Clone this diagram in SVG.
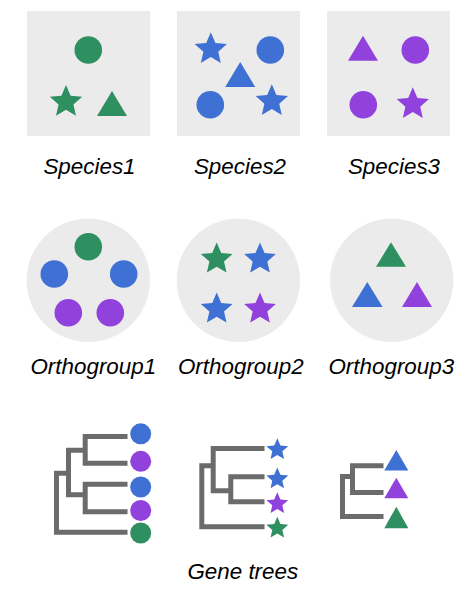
<svg xmlns="http://www.w3.org/2000/svg" xmlns:xlink="http://www.w3.org/1999/xlink" width="474" height="592" viewBox="0 0 474 592">
<style>
.bg{fill:#ebebeb}
.g{fill:#2e8f60}
.b{fill:#3f70d3}
.p{fill:#9142dc}
.lbl{font-family:"Liberation Sans",Arial,sans-serif;font-style:italic;font-size:22.4px;fill:#000;text-anchor:middle}
.br{fill:none;stroke:#6b6b6b;stroke-width:5;stroke-linecap:square;stroke-linejoin:miter}
</style>
<defs>
<path id="star" d="M0,-10 L2.704,-3.721 L9.511,-3.09 L4.375,1.421 L5.878,8.09 L0,4.6 L-5.878,8.09 L-4.375,1.421 L-9.511,-3.09 L-2.704,-3.721 Z"/>
<path id="tri" d="M0,-12.5 L15,12.5 L-15,12.5 Z"/>
</defs>

<g id="species1">
<rect class="bg" x="27" y="11" width="123" height="125"/>
<circle class="g" cx="88.3" cy="50" r="13.8"/>
<use xlink:href="#star" class="g" transform="translate(66,102) scale(1.7)"/>
<use xlink:href="#tri" class="g" transform="translate(112,103.5)"/>
<text class="lbl" x="89.5" y="174">Species1</text>
</g>

<g id="species2">
<rect class="bg" x="177" y="11" width="123" height="125"/>
<use xlink:href="#star" class="b" transform="translate(210.8,49.3) scale(1.7)"/>
<circle class="b" cx="270.3" cy="50" r="13.8"/>
<use xlink:href="#tri" class="b" transform="translate(240.2,74.5)"/>
<circle class="b" cx="210.3" cy="104.8" r="13.8"/>
<use xlink:href="#star" class="b" transform="translate(271.8,101.3) scale(1.7)"/>
<text class="lbl" x="240" y="174">Species2</text>
</g>

<g id="species3">
<rect class="bg" x="327" y="11" width="123" height="125"/>
<use xlink:href="#tri" class="p" transform="translate(363,48.3)"/>
<circle class="p" cx="415.3" cy="50" r="13.8"/>
<circle class="p" cx="363.3" cy="104.8" r="13.8"/>
<use xlink:href="#star" class="p" transform="translate(412.8,104.3) scale(1.7)"/>
<text class="lbl" x="394" y="174">Species3</text>
</g>

<g id="orthogroup1">
<circle class="bg" cx="88.3" cy="280.3" r="61.7"/>
<circle class="g" cx="88.3" cy="246.8" r="13.8"/>
<circle class="b" cx="54.3" cy="274" r="13.8"/>
<circle class="b" cx="123.7" cy="274" r="13.8"/>
<circle class="p" cx="68.3" cy="312.8" r="13.8"/>
<circle class="p" cx="110.3" cy="312.8" r="13.8"/>
<text class="lbl" x="93.3" y="374">Orthogroup1</text>
</g>

<g id="orthogroup2">
<circle class="bg" cx="238.3" cy="280.3" r="61.7"/>
<use xlink:href="#star" class="g" transform="translate(216.7,259.1) scale(1.67)"/>
<use xlink:href="#star" class="b" transform="translate(260,259.1) scale(1.67)"/>
<use xlink:href="#star" class="b" transform="translate(216.7,309.1) scale(1.67)"/>
<use xlink:href="#star" class="p" transform="translate(260,309.1) scale(1.67)"/>
<text class="lbl" x="240.8" y="374">Orthogroup2</text>
</g>

<g id="orthogroup3">
<circle class="bg" cx="391.7" cy="280.3" r="61.7"/>
<use xlink:href="#tri" class="g" transform="translate(391,254.5) scale(1,0.976)"/>
<use xlink:href="#tri" class="b" transform="translate(367.3,294.5) scale(1.02,1)"/>
<use xlink:href="#tri" class="p" transform="translate(417,294.5)"/>
<text class="lbl" x="391.3" y="374">Orthogroup3</text>
</g>

<g id="connectors">
<path class="br" d="M56.5,473.3 V532.3 H125 M56.5,473.3 H68.5 M68.5,450.2 V494.8 M68.5,450.2 H85.2 M68.5,494.8 H85.2 M85.2,436.5 V463.2 M85.2,436.5 H125 M85.2,463.2 H125 M85.2,484.2 V511.8 M85.2,484.2 H125 M85.2,511.8 H125"/>
<path class="br" d="M201.8,465.8 V526.8 H262 M201.8,465.8 H213.2 M213.2,448.5 V490.8 M213.2,448.5 H262 M213.2,490.8 H230.8 M230.8,476.8 V501.8 M230.8,476.8 H262 M230.8,501.8 H262"/>
<path class="br" d="M342.5,476.5 V516.5 H381 M342.5,476.5 H352.5 M352.5,465.8 V492.5 M352.5,465.8 H381 M352.5,492.5 H381"/>
</g>

<g id="genetree1">
<circle class="b" cx="140.7" cy="433.8" r="10.5"/>
<circle class="p" cx="140.7" cy="461.3" r="10.5"/>
<circle class="b" cx="140.7" cy="487" r="10.5"/>
<circle class="p" cx="140.7" cy="510.5" r="10.5"/>
<circle class="g" cx="140.7" cy="533" r="10.5"/>
</g>

<g id="genetree2">
<use xlink:href="#star" class="b" transform="translate(277.3,449.7) scale(1.15)"/>
<use xlink:href="#star" class="b" transform="translate(277.3,479) scale(1.15)"/>
<use xlink:href="#star" class="p" transform="translate(277.3,503.7) scale(1.15)"/>
<use xlink:href="#star" class="g" transform="translate(277.3,528.3) scale(1.15)"/>
</g>

<g id="genetree3">
<use xlink:href="#tri" class="b" transform="translate(396.3,460.2) scale(0.8,0.82)"/>
<use xlink:href="#tri" class="p" transform="translate(396.3,488) scale(0.8,0.82)"/>
<use xlink:href="#tri" class="g" transform="translate(396.3,517.5) scale(0.8,0.86)"/>
</g>

<text id="gene-trees-label" class="lbl" x="242.8" y="579">Gene trees</text>
</svg>
